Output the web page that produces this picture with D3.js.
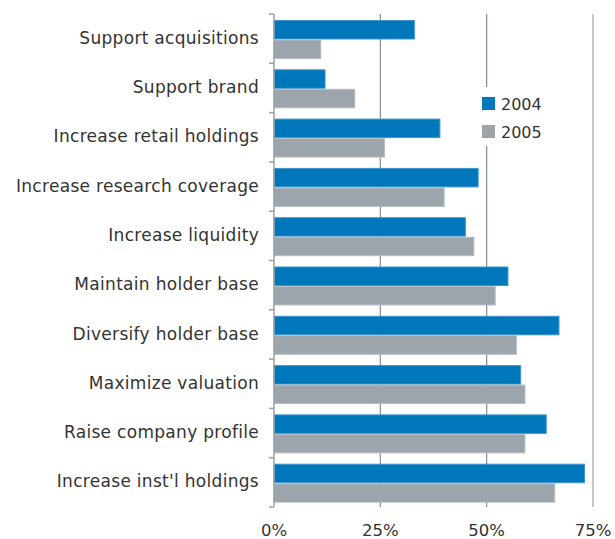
<!DOCTYPE html>
<html>
<head>
<meta charset="utf-8">
<script src="https://cdn.jsdelivr.net/npm/d3@7"></script>
<style>
  html, body { margin: 0; padding: 0; background: #fff; }
  svg { display: block; }
  text { font-family: "DejaVu Sans", Verdana, sans-serif; fill: #333; }
</style>
</head>
<body>
<svg id="chart" width="615" height="539"></svg>
<script>
// Reasons for investor-relations targeting, share of respondents (%)
const categories = [
  "Support acquisitions",
  "Support brand",
  "Increase retail holdings",
  "Increase research coverage",
  "Increase liquidity",
  "Maintain holder base",
  "Diversify holder base",
  "Maximize valuation",
  "Raise company profile",
  "Increase inst'l holdings"
];
const years = ["2004", "2005"];
const values2004 = [33, 12, 39, 48, 45, 55, 67, 58, 64, 73];
const values2005 = [11, 19, 26, 40, 47, 52, 57, 59, 59, 66];
const xTicks = [0, 25, 50, 75];
const xTickLabels = ["0%", "25%", "50%", "75%"];

const colors = { "2004": "#0077bb", "2005": "#9ca4ac" };
const strokes = { "2004": "#3f95cc", "2005": "#b9bfc5" };

const svg = d3.select("#chart");

const x = d3.scaleLinear().domain([0, 75]).range([274, 593]);
const y = d3.scaleBand().domain(categories).range([14, 507]).padding(0);
const sub = d3.scaleBand().domain(years).range([6, 45]).padding(0);

const rows = categories.map((c, i) => ({
  cat: c,
  vals: [
    { year: "2004", v: values2004[i] },
    { year: "2005", v: values2005[i] }
  ]
}));

// vertical gridlines
svg.append("g").selectAll("line")
  .data(xTicks.filter(t => t > 0))
  .join("line")
  .attr("x1", d => x(d)).attr("x2", d => x(d))
  .attr("y1", 14).attr("y2", 507)
  .attr("stroke", d => d === 75 ? "#c6c9cc" : "#868c92")
  .attr("stroke-width", d => d === 75 ? 2 : 1.2);

// bars
const groups = svg.append("g").selectAll("g")
  .data(rows)
  .join("g")
  .attr("transform", d => `translate(0,${y(d.cat)})`);

groups.selectAll("rect")
  .data(d => d.vals)
  .join("rect")
  .attr("x", x(0))
  .attr("y", d => sub(d.year) + 0.5)
  .attr("width", d => x(d.v) - x(0))
  .attr("height", sub.bandwidth() - 1)
  .attr("fill", d => colors[d.year])
  .attr("stroke", d => strokes[d.year])
  .attr("stroke-width", 1);

// category axis on the left with ticks at band edges
const yAxis = svg.append("g");
yAxis.append("line")
  .attr("x1", x(0)).attr("x2", x(0))
  .attr("y1", 14).attr("y2", 507)
  .attr("stroke", "#9aa0a6").attr("stroke-width", 1.5);
yAxis.selectAll("line.tick")
  .data(categories.concat(["__end"]))
  .join("line")
  .attr("class", "tick")
  .attr("x1", x(0) - 5).attr("x2", x(0))
  .attr("y1", (d, i) => i < categories.length ? y(d) : y.range()[1])
  .attr("y2", (d, i) => i < categories.length ? y(d) : y.range()[1])
  .attr("stroke", "#9aa0a6").attr("stroke-width", 1.5);

svg.append("g").selectAll("text")
  .data(categories)
  .join("text")
  .attr("x", 259)
  .attr("y", d => y(d) + y.bandwidth() / 2 - 1)
  .attr("dy", "0.36em")
  .attr("text-anchor", "end")
  .style("font-size", "17px")
  .style("letter-spacing", "0.3px")
  .text(d => d);

// value axis labels
svg.append("g").selectAll("text")
  .data(xTicks)
  .join("text")
  .attr("x", d => x(d))
  .attr("y", 536)
  .attr("text-anchor", "middle")
  .style("font-size", "16.5px")
  .text((d, i) => xTickLabels[i]);

// legend
const legend = svg.append("g");
legend.append("rect")
  .attr("x", 470).attr("y", 87).attr("width", 80).attr("height", 59)
  .attr("fill", "#fff");
const items = legend.selectAll("g")
  .data(years)
  .join("g")
  .attr("transform", (d, i) => `translate(482,${97 + i * 28})`);
items.append("rect")
  .attr("width", 13).attr("height", 13)
  .attr("fill", d => colors[d]);
items.append("text")
  .attr("x", 19).attr("y", 12.5)
  .style("font-size", "16px")
  .text(d => d);
</script>
</body>
</html>
